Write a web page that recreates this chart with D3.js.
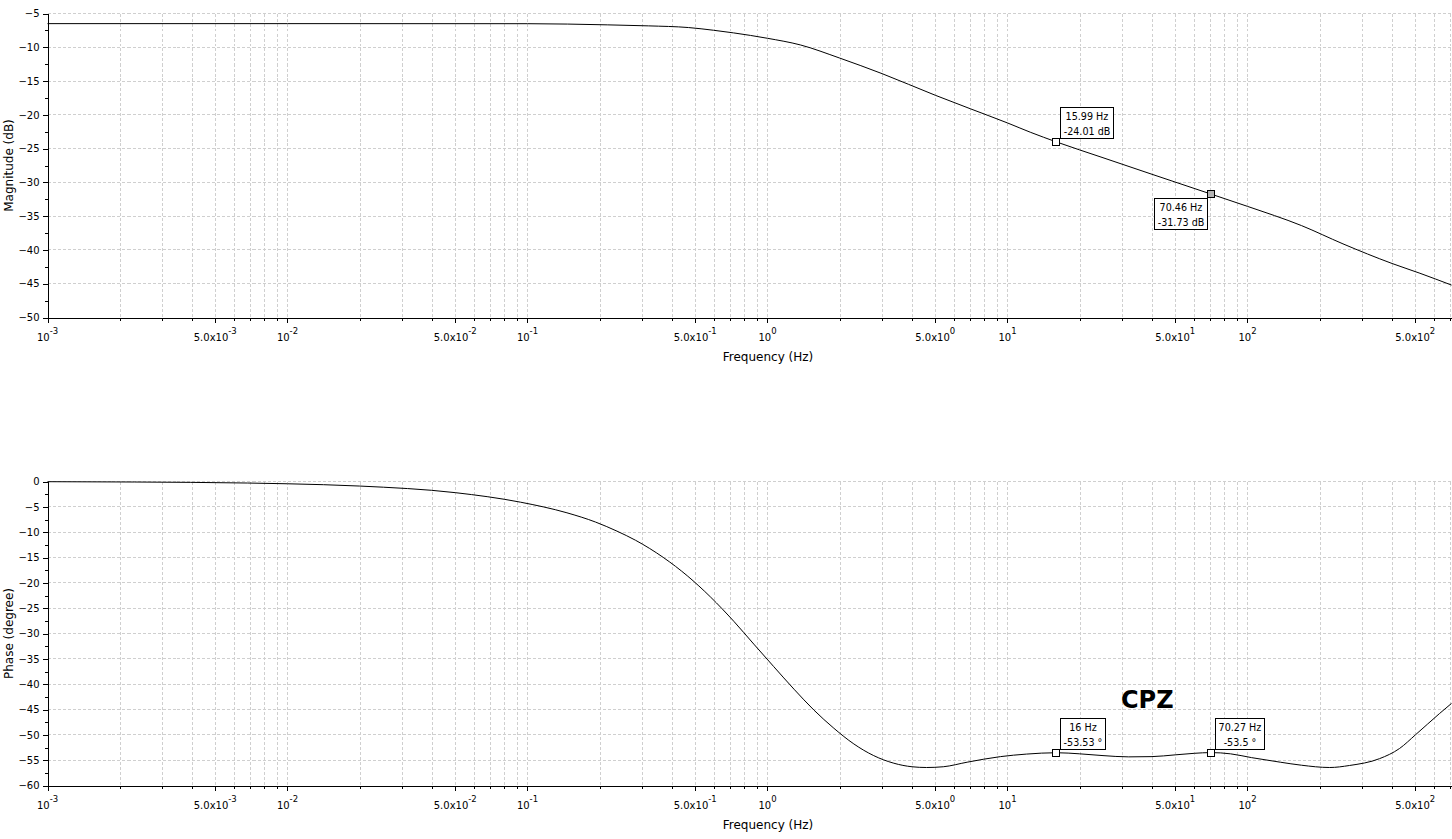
<!DOCTYPE html>
<html>
<head>
<meta charset="utf-8">
<script src="https://cdn.jsdelivr.net/npm/d3@7"></script>
<style>
  html, body { margin: 0; padding: 0; background: #fff; }
  svg { display: block; }
</style>
</head>
<body>
<div id="chart"></div>
<script>
// magnitude curve
var magFreq = [0.001, 0.01, 0.1, 0.215, 0.319, 0.469, 0.596, 0.722, 1.0, 1.37, 2, 3, 5, 7, 10, 12.5,
               15.99, 25, 40, 70.46, 100, 168, 250, 400, 523, 708];
var magDb = [-6.5, -6.5, -6.51, -6.68, -6.83, -7.08, -7.48, -7.87, -8.67, -9.65, -11.6, -13.9, -17.1, -19.1, -21.2, -22.6,
             -24.01, -26.35, -28.8, -31.73, -33.55, -36.4, -39.1, -42.0, -43.45, -45.2];

// phase curve
var phaseFreq = [0.001, 0.0023, 0.0068, 0.01, 0.02, 0.05, 0.0935, 0.146, 0.192, 0.236, 0.282, 0.37, 0.463,
                 0.579, 0.724, 0.877, 1.06, 1.29, 1.56, 1.89, 2.29, 2.77, 3.36, 4.0, 4.6, 5.4, 6.79, 9.35,
                 12, 16, 20, 25, 32, 40, 50, 60, 70.27, 85, 104, 137, 168, 220, 266, 355, 430, 501, 631, 708];
var phaseDeg = [-0.04, -0.1, -0.3, -0.45, -0.9, -2.2, -4.08, -6.18, -8.0, -9.8, -11.6, -15.07, -18.6,
                -22.8, -27.6, -32.1, -36.5, -41.0, -45.1, -48.7, -51.8, -54.1, -55.6, -56.3, -56.45, -56.3, -55.4, -54.3,
                -53.8, -53.53, -53.75, -54.1, -54.35, -54.3, -53.95, -53.65, -53.5, -53.75, -54.5, -55.4, -56.0, -56.45, -56.05,
                -54.7, -52.7, -50.0, -45.8, -43.8];

// datatips
var magTipFreq = [15.99, 70.46];
var magTipDb = [-24.01, -31.73];
var phaseTipFreq = [16, 70.27];
var phaseTipDeg = [-53.53, -53.5];

// axis ticks
var magTicks = [-50, -45, -40, -35, -30, -25, -20, -15, -10, -5];
var phaseTicks = [-60, -55, -50, -45, -40, -35, -30, -25, -20, -15, -10, -5, 0];
var decades = [-3, -2, -1, 0, 1, 2];

var W = 1452, H = 839;
var font = "'DejaVu Sans', sans-serif";

var svg = d3.select("#chart").append("svg")
	.attr("width", W)
	.attr("height", H);

var x = d3.scaleLog()
	.domain([0.001, 708])
	.range([47.5, 1451.5]);

var yMag = d3.scaleLinear().domain([-50, -5]).range([317.5, 13.5]);
var yPh = d3.scaleLinear().domain([-60, 0]).range([785.5, 481.5]);

// every 1..9 x 10^n inside the domain
var minorX = [];
decades.forEach(function(d) {
	for (var m = 1; m <= 9; m++) {
		var v = m * Math.pow(10, d);
		if (v >= 0.001 && v <= 708) minorX.push(v);
	}
});
var majorX = minorX.filter(function(v) {
	var m = Math.round(v / Math.pow(10, Math.floor(Math.log10(v) + 1e-9)));
	return m === 1 || m === 5;
});

function panel(y, majors, step, freqs, values, tipF, tipV, unit, tipLayout, yLabel) {
	var g = svg.append("g");
	var top = y.range()[1], bottom = y.range()[0];

	// grid
	g.append("g").selectAll("line").data(minorX.filter(function(v) { return v > 0.001; }))
		.join("line")
		.attr("x1", function(d) { return Math.round(x(d)) + 0.5; })
		.attr("x2", function(d) { return Math.round(x(d)) + 0.5; })
		.attr("y1", top).attr("y2", bottom)
		.style("stroke", "#cfcfcf")
		.style("stroke-dasharray", "3,2")
		.style("shape-rendering", "crispEdges");
	g.append("g").selectAll("line").data(majors.slice(1))
		.join("line")
		.attr("x1", x.range()[0]).attr("x2", x.range()[1])
		.attr("y1", function(d) { return y(d); })
		.attr("y2", function(d) { return y(d); })
		.style("stroke", "#cfcfcf")
		.style("stroke-dasharray", "3,2")
		.style("shape-rendering", "crispEdges");

	// y axis: minor then major ticks
	var minorY = d3.range(y.domain()[0], y.domain()[1] + 0.01, step / 2);
	g.append("g")
		.attr("transform", "translate(" + x.range()[0] + ",0)")
		.call(d3.axisLeft(y).tickValues(minorY).tickSize(3).tickSizeOuter(0).tickFormat(""))
		.call(function(a) { a.selectAll("line,path").style("shape-rendering", "crispEdges"); });
	var ya = g.append("g")
		.attr("transform", "translate(" + x.range()[0] + ",0)")
		.call(d3.axisLeft(y).tickValues(majors).tickSize(5).tickSizeOuter(0).tickPadding(3))
		.call(function(a) { a.selectAll("line,path").style("shape-rendering", "crispEdges"); });
	ya.selectAll("text")
		.style("font-family", font)
		.style("font-size", "10px")
		.style("fill", "#000");

	// x axis
	var xa = g.append("g").attr("transform", "translate(0," + bottom + ")");
	xa.call(d3.axisBottom(x).tickValues(minorX).tickSize(3.5).tickSizeOuter(0).tickFormat(""))
		.call(function(a) { a.selectAll("line,path").style("shape-rendering", "crispEdges"); });
	xa.append("g").call(d3.axisBottom(x).tickValues(majorX).tickSize(5.5).tickSizeOuter(0).tickFormat(""))
		.call(function(a) { a.selectAll("line,path").style("shape-rendering", "crispEdges"); });

	majorX.forEach(function(v) {
		var e = Math.floor(Math.log10(v) + 1e-9);
		var m = Math.round(v / Math.pow(10, e));
		var t = xa.append("text")
			.attr("x", x(v))
			.attr("y", 23.5)
			.attr("text-anchor", "middle")
			.style("font-family", font)
			.style("font-size", "10px")
			.style("fill", "#000");
		t.append("tspan").text(m === 5 ? "5.0x10" : "10");
		t.append("tspan")
			.attr("dy", -7)
			.style("font-size", "8.5px")
			.text(String(e));
	});

	svg.append("text")
		.attr("x", 768)
		.attr("y", bottom + 43.5)
		.attr("text-anchor", "middle")
		.style("font-family", font)
		.style("font-size", "12px")
		.text("Frequency (Hz)");

	svg.append("text")
		.attr("transform", "translate(12.5," + ((top + bottom) / 2) + ") rotate(-90)")
		.attr("text-anchor", "middle")
		.style("font-family", font)
		.style("font-size", "12px")
		.text(yLabel);

	// curve
	var line = d3.line()
		.x(function(d, i) { return x(freqs[i]); })
		.y(function(d) { return y(d); })
		.curve(d3.curveMonotoneX);
	g.append("path")
		.datum(values)
		.attr("d", line)
		.style("fill", "none")
		.style("stroke", "#000")
		.style("stroke-width", 1);

	// datatips
	tipF.forEach(function(f, i) {
		var mx = x(f), my = y(tipV[i]);
		var lay = tipLayout[i];
		var tg = g.append("g");
		var box = tg.append("rect")
			.style("fill", "#fff")
			.style("stroke", "#000")
			.style("stroke-width", 1)
			.style("shape-rendering", "crispEdges");
		var lines = [f + " Hz", tipV[i] + " " + unit];
		var texts = lines.map(function(s) {
			return tg.append("text")
				.attr("text-anchor", "middle")
				.style("font-family", font)
				.style("font-size", "9.6px")
				.style("fill", "#000")
				.text(s);
		});
		var tw = d3.max(texts, function(t) { return t.node().getComputedTextLength(); });
		var bw = Math.round(tw + 6), bh = 31;
		var bx = lay.right ? mx + 4 : mx - 4 - bw;
		var by = lay.up ? my - 4 - bh : my + 3.5;
		bx = Math.round(bx) + 0.5; by = Math.round(by) + 0.5;
		box.attr("x", bx).attr("y", by).attr("width", bw).attr("height", bh);
		texts[0].attr("x", bx + bw / 2).attr("y", by + 12.5);
		texts[1].attr("x", bx + bw / 2).attr("y", by + 27);

		tg.append("rect")
			.attr("x", Math.round(mx - 4) + 0.5)
			.attr("y", Math.round(my - 4) + 0.5)
			.attr("width", 7)
			.attr("height", 7)
			.style("fill", lay.fill)
			.style("stroke", "#000")
			.style("stroke-width", 1)
			.style("shape-rendering", "crispEdges");
	});
}

panel(yMag, magTicks, 5, magFreq, magDb, magTipFreq, magTipDb, "dB",
	[{ right: true, up: true, fill: "#fff" }, { right: false, up: false, fill: "#b4b4b4" }],
	"Magnitude (dB)");

panel(yPh, phaseTicks, 5, phaseFreq, phaseDeg, phaseTipFreq, phaseTipDeg, "\u00b0",
	[{ right: true, up: true, fill: "#fff" }, { right: true, up: true, fill: "#fff" }],
	"Phase (degree)");

svg.append("text")
	.attr("x", 1121)
	.attr("y", 707.5)
	.style("font-family", font)
	.style("font-size", "24px")
	.style("font-weight", "bold")
	.text("CPZ");
</script>
</body>
</html>
